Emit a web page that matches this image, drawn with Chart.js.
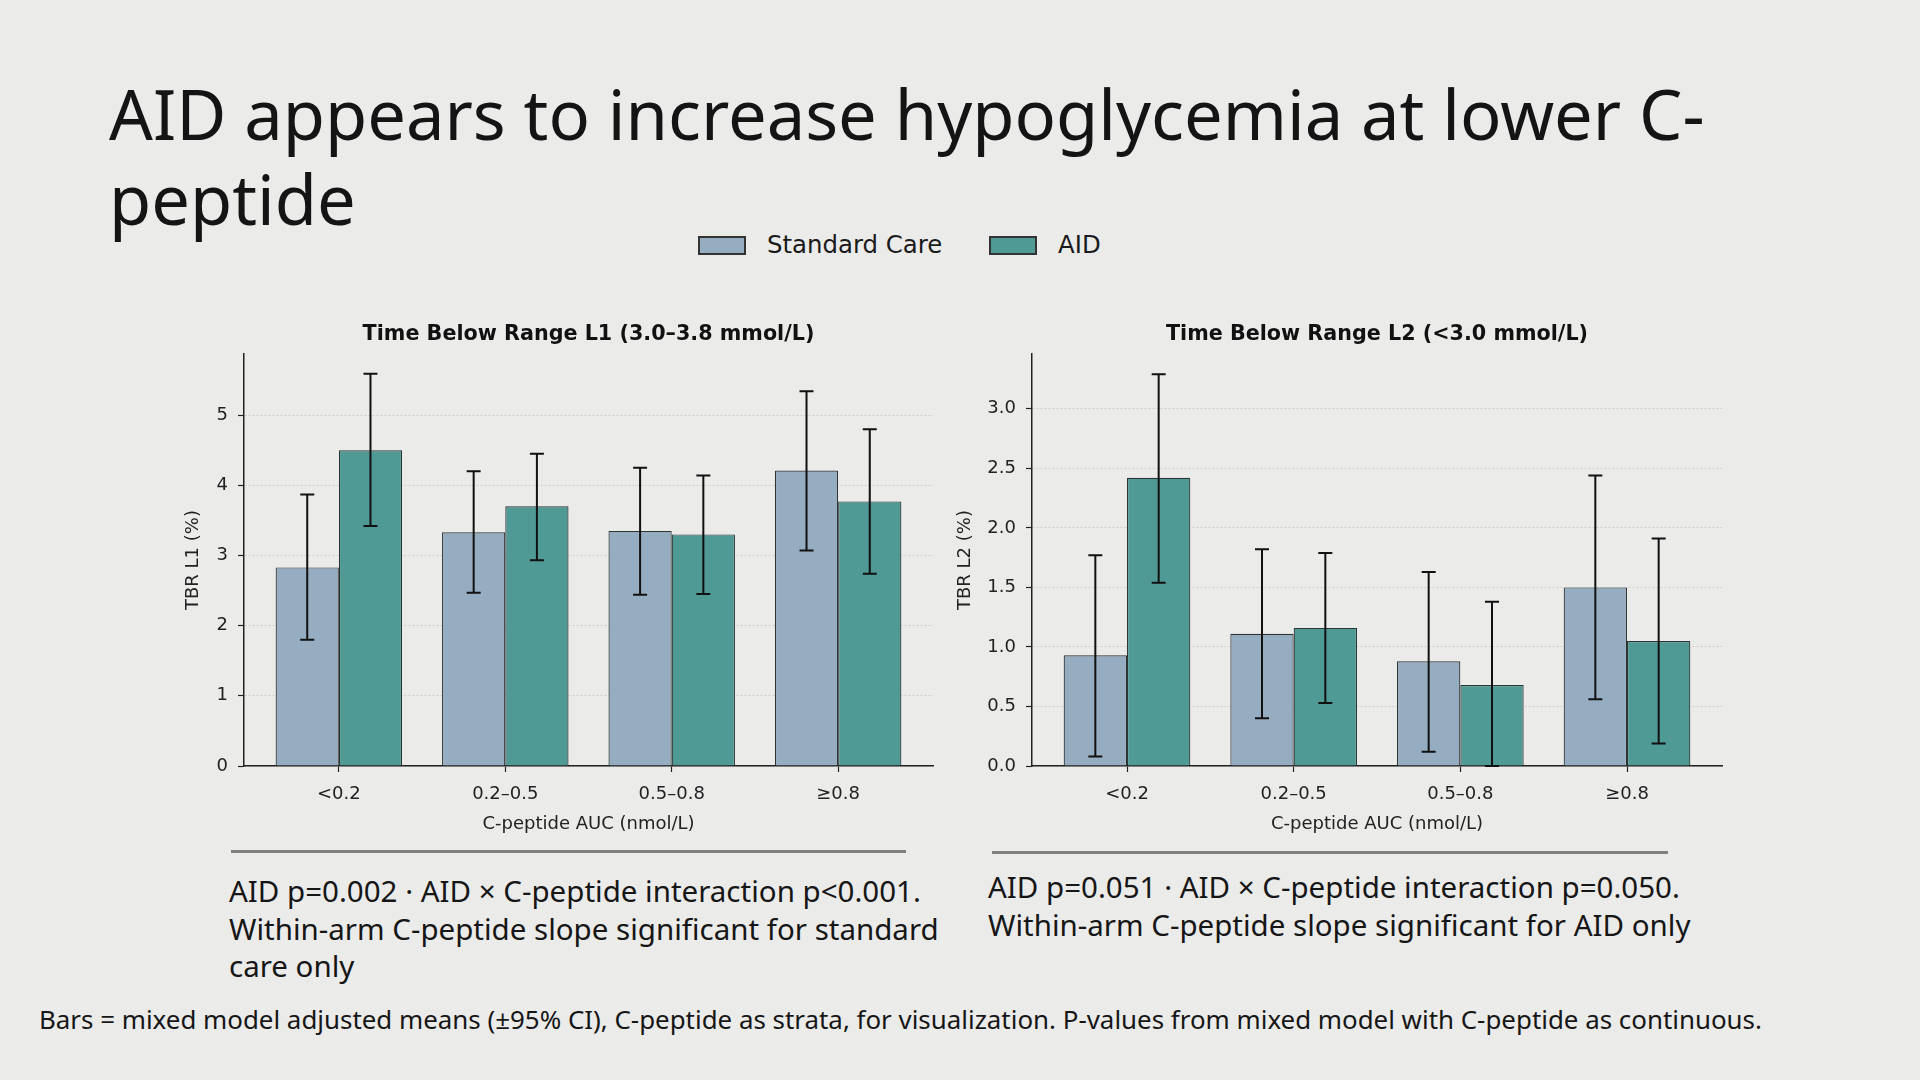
<!DOCTYPE html>
<html lang="en">
<head>
    <meta charset="UTF-8">
    <title>AID appears to increase hypoglycemia at lower C-peptide</title>
    <script src="https://cdn.jsdelivr.net/npm/chart.js"></script>
    <style>
        body { margin: 0; background: #ebebea; }
        .slide { position: relative; width: 1920px; height: 1080px; overflow: hidden; background: #ebebea; }
        .slide-title { position: absolute; left: 109px; top: 71px; font-family: "Noto Sans", sans-serif; font-size: 68.7px; line-height: 85px; color: #141414; white-space: nowrap; }
        .legend-box { position: absolute; width: 48px; height: 19px; top: 236px; box-sizing: border-box; border: 2px solid #333; }
        .legend-text { position: absolute; top: 231px; font-family: "DejaVu Sans", sans-serif; font-size: 24.4px; line-height: 28px; color: #1a1a1a; white-space: nowrap; }
        canvas { position: absolute; }
        .rule { position: absolute; height: 3px; background: #808080; }
        .stats { position: absolute; font-family: "Noto Sans", sans-serif; font-size: 29.5px; line-height: 37.5px; color: #161616; white-space: nowrap; }
        .footnote { position: absolute; left: 39px; top: 1004px; font-family: "Noto Sans", sans-serif; font-size: 25.9px; line-height: 30px; color: #161616; white-space: nowrap; }
    </style>
</head>
<body>
<div class="slide">
    <div class="slide-title">AID appears to increase hypoglycemia at lower C-<br>peptide</div>

    <div class="legend-box" id="legStd" style="left:698px;"></div>
    <div class="legend-text" style="left:767px;">Standard Care</div>
    <div class="legend-box" id="legAid" style="left:989px;"></div>
    <div class="legend-text" style="left:1058px;">AID</div>

    <canvas id="l1Chart" width="820" height="540" style="left:150px;top:300px;"></canvas>
    <canvas id="l2Chart" width="850" height="540" style="left:900px;top:300px;"></canvas>

    <div class="rule" style="left:231px;top:850px;width:675px;"></div>
    <div class="rule" style="left:992px;top:851px;width:676px;"></div>

    <div class="stats" style="left:229px;top:872px;">AID p=0.002 · AID × C-peptide interaction p&lt;0.001.<br>Within-arm C-peptide slope significant for standard<br>care only</div>
    <div class="stats" style="left:988px;top:868px;">AID p=0.051 · AID × C-peptide interaction p=0.050.<br>Within-arm C-peptide slope significant for AID only</div>

    <div class="footnote">Bars = mixed model adjusted means (±95% CI), C-peptide as strata, for visualization. P-values from mixed model with C-peptide as continuous.</div>
</div>

<script>
// C-peptide strata
const categories = ['<0.2', '0.2–0.5', '0.5–0.8', '≥0.8'];
const categoryPos = [0, 1, 2, 3];

// TBR L1 (3.0-3.8 mmol/L), adjusted means and 95% CI
const l1Standard = [2.83, 3.33, 3.35, 4.21];
const l1StandardLow = [1.80, 2.47, 2.44, 3.07];
const l1StandardHigh = [3.87, 4.20, 4.25, 5.34];
const l1Aid = [4.50, 3.70, 3.30, 3.77];
const l1AidLow = [3.42, 2.93, 2.45, 2.74];
const l1AidHigh = [5.59, 4.45, 4.14, 4.80];
const l1Ticks = [0, 1, 2, 3, 4, 5];

// TBR L2 (<3.0 mmol/L)
const l2Standard = [0.93, 1.11, 0.88, 1.50];
const l2StandardLow = [0.08, 0.40, 0.12, 0.56];
const l2StandardHigh = [1.77, 1.82, 1.63, 2.44];
const l2Aid = [2.42, 1.16, 0.68, 1.05];
const l2AidLow = [1.54, 0.53, 0.00, 0.19];
const l2AidHigh = [3.29, 1.79, 1.38, 1.91];
const l2Ticks = [0, 0.5, 1.0, 1.5, 2.0, 2.5, 3.0];

const stdColor = '#96acc0';
const aidColor = '#4f9a94';
const edgeColor = '#2c3434';
const inkColor = '#222222';

document.getElementById('legStd').style.background = stdColor;
document.getElementById('legAid').style.background = aidColor;

const errorBars = {
    id: 'errorBars',
    afterDatasetsDraw(chart) {
        const ctx = chart.ctx;
        const yScale = chart.scales.y;
        ctx.save();
        ctx.strokeStyle = '#111';
        ctx.lineWidth = 2;
        chart.data.datasets.forEach((ds, di) => {
            const meta = chart.getDatasetMeta(di);
            meta.data.forEach((bar, i) => {
                const x = bar.x;
                const lo = yScale.getPixelForValue(ds.errLow[i]);
                const hi = yScale.getPixelForValue(ds.errHigh[i]);
                ctx.beginPath();
                ctx.moveTo(x, lo); ctx.lineTo(x, hi);
                ctx.moveTo(x - 7, lo); ctx.lineTo(x + 7, lo);
                ctx.moveTo(x - 7, hi); ctx.lineTo(x + 7, hi);
                ctx.stroke();
            });
        });
        ctx.restore();
    }
};

function points(values) {
    return values.map((v, i) => ({ x: categoryPos[i], y: v }));
}

function makeChart(id, opt) {
    const tickFont = { family: 'DejaVu Sans', size: 18 };
    return new Chart(document.getElementById(id), {
        type: 'bar',
        data: {
            datasets: [{
                label: 'Standard Care',
                data: points(opt.std),
                errLow: opt.stdLow,
                errHigh: opt.stdHigh,
                backgroundColor: stdColor,
                borderColor: edgeColor,
                borderWidth: 1.2,
                categoryPercentage: 0.76,
                barPercentage: 1
            }, {
                label: 'AID',
                data: points(opt.aid),
                errLow: opt.aidLow,
                errHigh: opt.aidHigh,
                backgroundColor: aidColor,
                borderColor: edgeColor,
                borderWidth: 1.2,
                categoryPercentage: 0.76,
                barPercentage: 1
            }]
        },
        options: {
            responsive: false,
            animation: false,
            events: [],
            layout: { padding: { left: 0, right: opt.rightPad, top: 0, bottom: 0 } },
            plugins: {
                legend: { display: false },
                tooltip: { enabled: false },
                title: {
                    display: true,
                    fullSize: false,
                    text: opt.title,
                    color: '#111',
                    font: { family: 'DejaVu Sans', size: 20.7, weight: 'bold' },
                    padding: { top: 22, bottom: 7.2 }
                }
            },
            scales: {
                x: {
                    type: 'linear',
                    min: -0.57,
                    max: 3.57,
                    offset: false,
                    afterBuildTicks: s => { s.ticks = categoryPos.map(v => ({ value: v })); },
                    afterFit: s => { s.height = 74; },
                    ticks: {
                        padding: 12,
                        color: inkColor,
                        font: tickFont,
                        maxRotation: 0,
                        callback: v => categories[Math.round(v)]
                    },
                    grid: {
                        offset: false,
                        drawOnChartArea: false,
                        drawTicks: true,
                        tickLength: 6,
                        tickColor: inkColor,
                        tickWidth: 1.2
                    },
                    border: { display: true, color: inkColor, width: 1.5 },
                    title: {
                        display: true,
                        text: 'C-peptide AUC (nmol/L)',
                        color: inkColor,
                        font: tickFont,
                        padding: { top: 0, bottom: 5 }
                    }
                },
                y: {
                    min: 0,
                    max: opt.yMax,
                    afterBuildTicks: s => { s.ticks = opt.ticks.map(v => ({ value: v })); },
                    afterFit: s => { s.width = opt.yWidth; },
                    ticks: {
                        padding: 10,
                        color: inkColor,
                        font: tickFont,
                        callback: v => opt.decimals ? v.toFixed(1) : String(v)
                    },
                    grid: {
                        color: '#cdcdcd',
                        lineWidth: 1,
                        drawTicks: true,
                        tickLength: 6,
                        tickColor: inkColor,
                        tickWidth: 1.2,
                        tickBorderDash: []
                    },
                    border: { display: true, color: inkColor, width: 1.5, dash: [2, 2] },
                    title: {
                        display: true,
                        text: opt.yTitle,
                        color: inkColor,
                        font: tickFont,
                        padding: { top: opt.yTitlePad, bottom: 0 }
                    }
                }
            }
        },
        plugins: [errorBars]
    });
}

makeChart('l1Chart', {
    title: 'Time Below Range L1 (3.0–3.8 mmol/L)',
    yTitle: 'TBR L1 (%)',
    std: l1Standard, stdLow: l1StandardLow, stdHigh: l1StandardHigh,
    aid: l1Aid, aidLow: l1AidLow, aidHigh: l1AidHigh,
    ticks: l1Ticks, decimals: false,
    yMax: 5.87, yWidth: 94, yTitlePad: 32.7, rightPad: 37
});

makeChart('l2Chart', {
    title: 'Time Below Range L2 (<3.0 mmol/L)',
    yTitle: 'TBR L2 (%)',
    std: l2Standard, stdLow: l2StandardLow, stdHigh: l2StandardHigh,
    aid: l2Aid, aidLow: l2AidLow, aidHigh: l2AidHigh,
    ticks: l2Ticks, decimals: true,
    yMax: 3.46, yWidth: 132, yTitlePad: 54.2, rightPad: 28
});
</script>
</body>
</html>
